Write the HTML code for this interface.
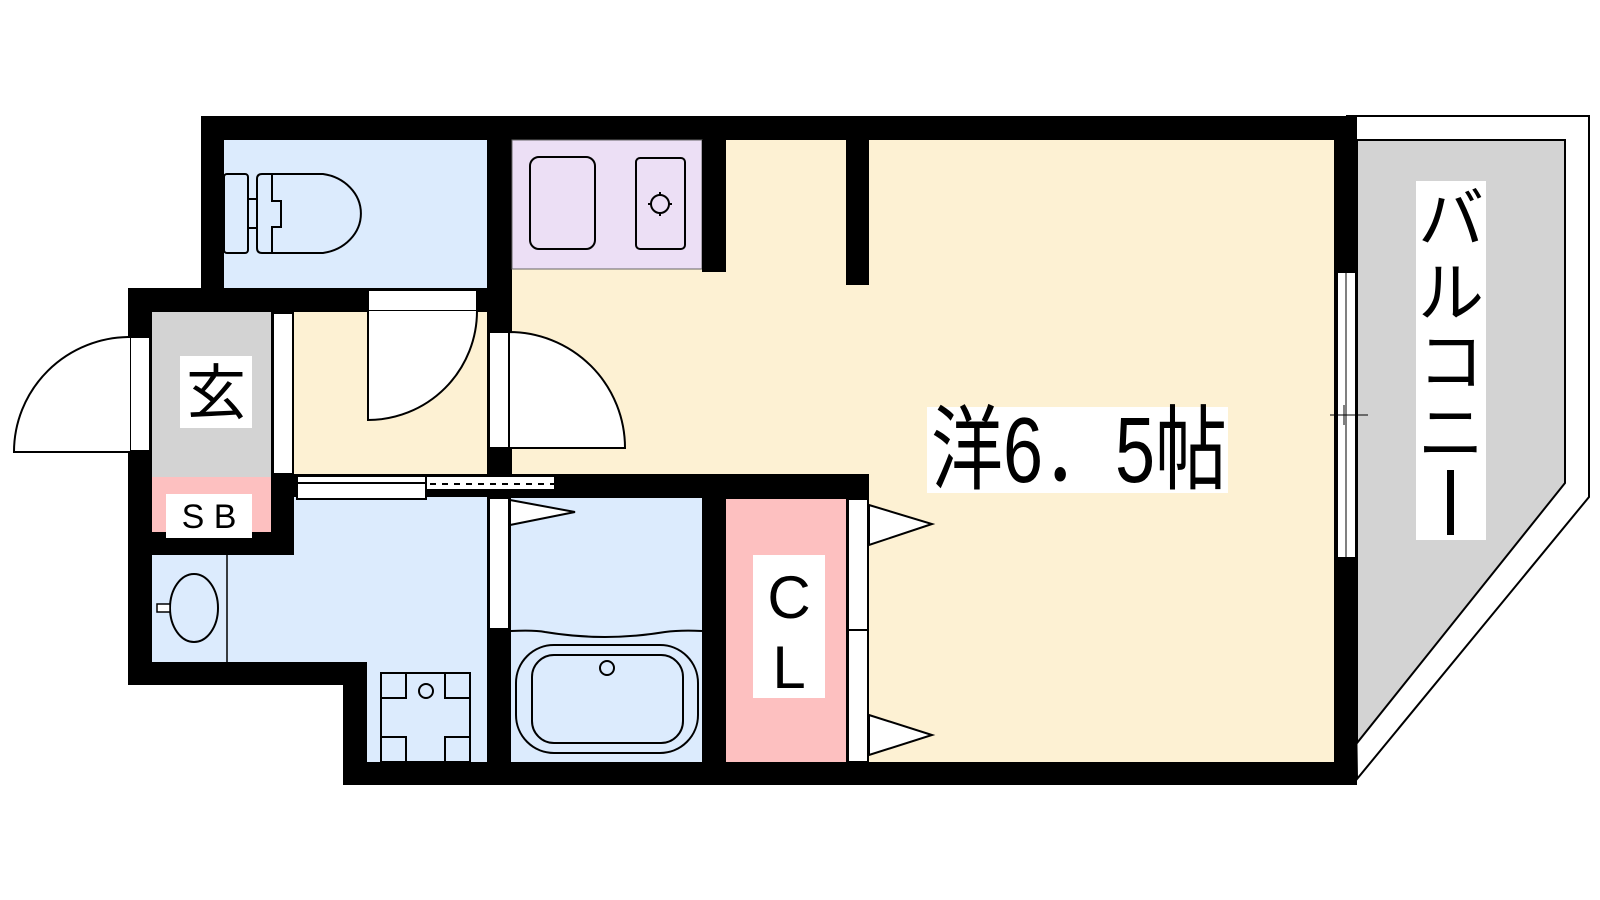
<!DOCTYPE html>
<html><head><meta charset="utf-8"><style>
html,body{margin:0;padding:0;background:#fff;width:1600px;height:900px;overflow:hidden}
svg{display:block}
text{font-family:"Liberation Sans","Noto Sans CJK JP",sans-serif}
</style></head><body>
<svg width="1600" height="900" viewBox="0 0 1600 900" xmlns="http://www.w3.org/2000/svg">
<!-- balcony -->
<polygon points="1347,116 1589,116 1589,497 1357,779" fill="#fff" stroke="#000" stroke-width="2"/>
<polygon points="1357,140 1565,140 1565,483 1357,743" fill="#d3d3d3" stroke="#000" stroke-width="2"/>
<!-- walls -->
<polygon points="201,116 1357,116 1357,785 343,785 343,685 128,685 128,288 201,288" fill="#000"/>
<!-- rooms -->
<rect x="224" y="140" width="263" height="148" fill="#dcebfd"/>
<rect x="512" y="140" width="822" height="334" fill="#fdf1d3"/>
<rect x="869" y="474" width="465" height="288" fill="#fdf1d3"/>
<rect x="512" y="140" width="190" height="129" fill="#ecdff5" stroke="#666" stroke-width="1"/>
<rect x="702" y="140" width="24" height="132" fill="#000"/>
<rect x="846" y="140" width="23" height="145" fill="#000"/>
<rect x="294" y="312" width="193" height="162" fill="#fdf1d3"/>
<rect x="152" y="312" width="119" height="165" fill="#d3d3d3"/>
<rect x="152" y="477" width="119" height="55" fill="#fdc0c0"/>
<rect x="152" y="555" width="335" height="107" fill="#dcebfd"/>
<rect x="294" y="497" width="193" height="60" fill="#dcebfd"/>
<rect x="367" y="660" width="120" height="102" fill="#dcebfd"/>
<rect x="511" y="498" width="191" height="264" fill="#dcebfd"/>
<rect x="726" y="499" width="120" height="263" fill="#fdc0c0"/>
<!-- door frames -->
<g fill="#fff" stroke="#000" stroke-width="2">
<rect x="273" y="313" width="20" height="161"/>
<rect x="130" y="337" width="20" height="114"/>
<rect x="368" y="290" width="109" height="21"/>
<rect x="489" y="332" width="20" height="116"/>
<rect x="489" y="498" width="20" height="131"/>
<rect x="848" y="499" width="20" height="131"/>
<rect x="848" y="630" width="20" height="132"/>
<rect x="1337" y="272" width="19" height="286"/>
<rect x="297" y="476" width="129" height="23"/>
<rect x="426" y="476" width="129" height="14"/>
</g>
<line x1="297" y1="483" x2="426" y2="483" stroke="#000" stroke-width="2"/>
<line x1="430" y1="484" x2="555" y2="484" stroke="#000" stroke-width="2" stroke-dasharray="6,6"/>
<line x1="1346" y1="272" x2="1346" y2="558" stroke="#000" stroke-width="1"/>
<line x1="1330" y1="415" x2="1368" y2="415" stroke="#000" stroke-width="1"/>
<line x1="1344" y1="405" x2="1344" y2="425" stroke="#000" stroke-width="1"/>
<!-- door swings -->
<g fill="#fff" stroke="#000" stroke-width="2">
<path d="M130,337 A116,115 0 0 0 14,452 L130,452"/>
<path d="M368,311 L368,420 A109,109 0 0 0 477,311"/>
<path d="M509,332 A116,116 0 0 1 625,448 L509,448 Z"/>
<polygon points="510,500 575,512 510,525"/>
<polygon points="869,505 932,524 869,545"/>
<polygon points="869,715 932,735 869,755"/>
</g>
<!-- fixtures -->
<g fill="none" stroke="#000" stroke-width="2">
<rect x="224" y="174" width="24" height="79" rx="3"/>
<rect x="248" y="199" width="9" height="29"/>
<path d="M262,174 L323,174 A45,40 0 0 1 323,253 L262,253 Q257,253 257,248 L257,179 Q257,174 262,174 Z"/>
<path d="M272,174 L272,201 L281,201 L281,227 L272,227 L272,253"/>
<rect x="530" y="157" width="65" height="92" rx="9"/>
<rect x="636" y="158" width="49" height="91" rx="4"/>
<circle cx="660" cy="204" r="9"/>
<path d="M660,192 v4 M660,212 v4 M648,204 h4 M668,204 h4"/>
<line x1="227" y1="555" x2="227" y2="662" stroke-width="1.5"/>
<ellipse cx="194" cy="608" rx="24" ry="34"/>
<rect x="381" y="673" width="89" height="89"/>
<path d="M381,698 h25 v-25 M445,673 v25 h25 M381,737 h25 v25 M445,762 v-25 h25"/>
<circle cx="426" cy="691" r="7"/>
<path d="M511,631 Q535,630 545,632 Q605,642 665,632 Q680,630 702,631"/>
<rect x="516" y="645" width="182" height="108" rx="38"/>
<rect x="532" y="655" width="151" height="88" rx="22"/>
<circle cx="607" cy="668" r="7"/>
</g>
<rect x="157" y="604" width="13" height="8" fill="#fff" stroke="#000" stroke-width="1.5"/>
<!-- labels -->
<rect x="180" y="356" width="72" height="72" fill="#fff"/>
<text x="216" y="414" font-size="60" text-anchor="middle">玄</text>
<rect x="166" y="494" width="86" height="44" fill="#fff"/>
<text x="209" y="528" font-size="34" text-anchor="middle">S B</text>
<rect x="753" y="555" width="72" height="143" fill="#fff"/>
<text x="789" y="618" font-size="60" text-anchor="middle">C</text>
<text x="789" y="688" font-size="60" text-anchor="middle">L</text>
<rect x="927" y="407" width="301" height="86" fill="#fff"/>
<text x="0" y="0" font-size="90" transform="translate(931,482) scale(0.8,1.03)">洋6．5帖</text>
<rect x="1416" y="181" width="70" height="359" fill="#fff"/>
<g font-size="66" text-anchor="middle">
<text x="1451" y="242">バ</text>
<text x="1451" y="316">ル</text>
<text x="1451" y="385">コ</text>
<text x="1451" y="456">ニ</text>
</g>
<rect x="1447" y="470" width="7" height="65" fill="#000"/>
</svg>
</body></html>
